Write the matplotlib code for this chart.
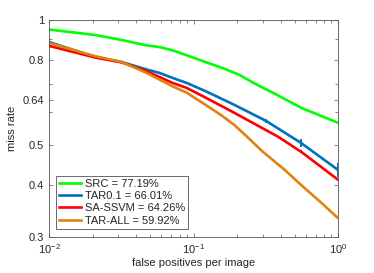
import matplotlib
matplotlib.use('Agg')
import matplotlib.pyplot as plt
from matplotlib.ticker import FixedLocator, NullFormatter, LogLocator

plt.rcParams['font.family'] = ['Liberation Sans', 'DejaVu Sans']
plt.rcParams['mathtext.fontset'] = 'custom'
plt.rcParams['mathtext.rm'] = 'Liberation Sans'
plt.rcParams['font.size'] = 8

# curves (fppi, miss rate)
src_fppi = [0.01, 0.0208, 0.0318, 0.0459, 0.0583, 0.0716, 0.0896, 0.123, 0.165, 0.208, 0.264, 0.362, 0.556, 1.0]
src_mr = [0.948, 0.920, 0.895, 0.870, 0.860, 0.845, 0.822, 0.790, 0.762, 0.737, 0.703, 0.665, 0.614, 0.565]

tar01_fppi = [0.01, 0.0208, 0.0318, 0.0459, 0.0583, 0.0716, 0.0896, 0.123, 0.192, 0.318, 0.556, 1.0]
tar01_mr = [0.885, 0.814, 0.792, 0.762, 0.745, 0.725, 0.705, 0.672, 0.624, 0.571, 0.505, 0.435]

ssvm_fppi = [0.01, 0.0208, 0.0318, 0.0459, 0.0716, 0.0896, 0.123, 0.192, 0.385, 0.556, 1.0]
ssvm_mr = [0.866, 0.812, 0.790, 0.756, 0.705, 0.686, 0.648, 0.597, 0.523, 0.481, 0.412]

tarall_fppi = [0.01, 0.0208, 0.0318, 0.0459, 0.0583, 0.0716, 0.0896, 0.123, 0.155, 0.192, 0.232, 0.3, 0.425, 0.556, 0.75, 1.0]
tarall_mr = [0.880, 0.818, 0.792, 0.749, 0.718, 0.692, 0.668, 0.622, 0.590, 0.558, 0.525, 0.482, 0.436, 0.400, 0.365, 0.333]

# small error bars seen on some curves
tar01_err_fppi = [0.01, 0.0583, 0.318, 0.556, 1.0]
tar01_err_mr = [0.885, 0.745, 0.571, 0.505, 0.435]
tar01_err = [0.014, 0.005, 0.005, 0.012, 0.016]
ssvm_err_fppi = [0.01, 0.556]
ssvm_err_mr = [0.866, 0.481]
ssvm_err = [0.012, 0.004]

labels = ['SRC = 77.19%', 'TAR0.1 = 66.01%', 'SA-SSVM = 64.26%', 'TAR-ALL = 59.92%']
colors = ['#00ff00', '#0072bd', '#ff0000', '#e0820f']

fig = plt.figure(figsize=(3.74, 2.73), dpi=100)
ax = fig.add_axes([0.131, 0.132, 0.773, 0.795])

lw = 1.9
ax.plot(src_fppi, src_mr, color=colors[0], lw=lw, label=labels[0])
ax.plot(tar01_fppi, tar01_mr, color=colors[1], lw=lw, label=labels[1])
ax.plot(ssvm_fppi, ssvm_mr, color=colors[2], lw=lw, label=labels[2])
ax.plot(tarall_fppi, tarall_mr, color=colors[3], lw=lw, label=labels[3])
ax.errorbar(tar01_err_fppi, tar01_err_mr, yerr=tar01_err, fmt='none',
            ecolor=colors[1], elinewidth=1.4, capsize=0)
ax.errorbar(ssvm_err_fppi, ssvm_err_mr, yerr=ssvm_err, fmt='none',
            ecolor=colors[2], elinewidth=1.4, capsize=0)

ax.set_xscale('log')
ax.set_yscale('log')
ax.set_xlim(0.01, 1)
ax.set_ylim(0.3, 1)

ax.xaxis.set_major_locator(FixedLocator([0.01, 0.1, 1]))
ax.xaxis.set_minor_locator(LogLocator(base=10, subs=range(2, 10)))
ax.xaxis.set_minor_formatter(NullFormatter())
ax.yaxis.set_major_locator(FixedLocator([0.3, 0.4, 0.5, 0.64, 0.8, 1]))
ax.set_yticklabels(['0.3', '0.4', '0.5', '0.64', '0.8', '1'])
ax.yaxis.set_minor_locator(FixedLocator([0.6, 0.7, 0.9]))
ax.yaxis.set_minor_formatter(NullFormatter())

gray = '#262626'
for s in ax.spines.values():
    s.set_color('#555555')
    s.set_linewidth(0.6)
ax.tick_params(which='both', direction='in', top=True, right=True,
               colors='#555555', labelcolor=gray, width=0.5)
ax.tick_params(which='major', length=3)
ax.tick_params(which='minor', length=2)

ax.set_xlabel('false positives per image', color=gray, labelpad=2)
ax.set_ylabel('miss rate', color=gray, labelpad=4)

leg = ax.legend(loc='lower left', bbox_to_anchor=(0.024, 0.037), frameon=True,
                fancybox=False, handlelength=2.0, handletextpad=0.3,
                borderpad=0.3, labelspacing=0.2, borderaxespad=0)
leg.get_frame().set_edgecolor(gray)
leg.get_frame().set_linewidth(0.6)
for t in leg.get_texts():
    t.set_color(gray)

fig.savefig('out.png', dpi=100)
